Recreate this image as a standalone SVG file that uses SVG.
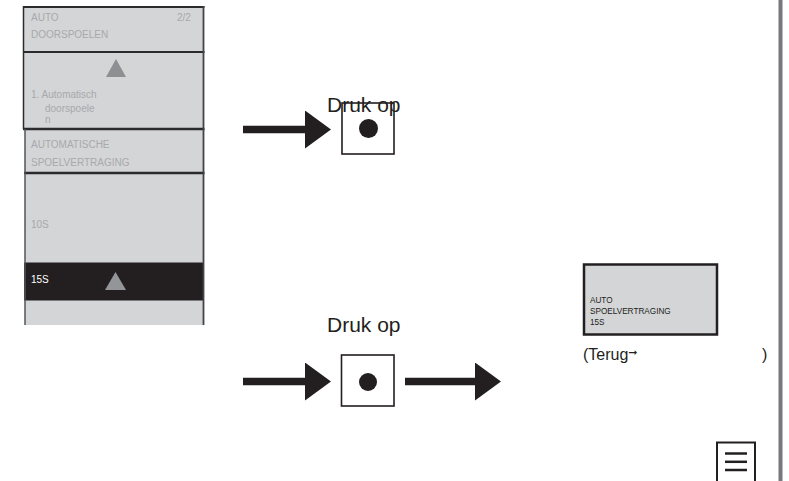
<svg xmlns="http://www.w3.org/2000/svg" width="789" height="481" viewBox="0 0 789 481">
<style>
.pt{font-family:"Liberation Sans",Arial,sans-serif;font-size:10px;fill:#a7a9ac}
.dk{font-family:"Liberation Sans",Arial,sans-serif;fill:#231f20}
.bd{stroke:#2b2b2d;stroke-width:2;fill:none}
.sh{stroke:#231f20;stroke-width:7.5;fill:none}
</style>
<defs>
<marker id="ah" markerUnits="userSpaceOnUse" markerWidth="27" markerHeight="40" refX="1" refY="19" orient="auto" viewBox="0 0 27 40">
<path d="M0,0 L26,19 L0,38 Z" fill="#231f20"/>
</marker>
</defs>
<rect width="789" height="481" fill="#ffffff"/>
<g id="screen-panel">
<rect x="23.5" y="7" width="180.5" height="122" fill="#d4d5d7"/>
<rect x="25" y="129" width="179" height="196" fill="#d4d5d7"/>
<rect x="24" y="262.5" width="180" height="38" fill="#231f20"/>
<line class="bd" x1="23" y1="7" x2="204.5" y2="7"/>
<line class="bd" x1="23" y1="52" x2="204.5" y2="52"/>
<line class="bd" x1="23" y1="129" x2="204.5" y2="129" style="stroke-width:2.5"/>
<line class="bd" x1="24" y1="173" x2="204.5" y2="173" style="stroke-width:2.5"/>
<line class="bd" x1="23.5" y1="6" x2="23.5" y2="129" style="stroke-width:1.5"/>
<line class="bd" x1="25" y1="129" x2="25" y2="325" style="stroke-width:1.5;stroke:#555558"/>
<line class="bd" x1="203.5" y1="6" x2="203.5" y2="325" style="stroke-width:1.8;stroke:#444447"/>
<text class="pt" x="31" y="21">AUTO</text>
<text class="pt" x="177" y="21">2/2</text>
<text class="pt" x="31" y="38">DOORSPOELEN</text>
<polygon points="106,77 126,77 116,59" fill="#8e8f92"/>
<text class="pt" x="31" y="98">1. Automatisch</text>
<text class="pt" x="45" y="112">doorspoele</text>
<text class="pt" x="45" y="123">n</text>
<text class="pt" x="31" y="148">AUTOMATISCHE</text>
<text class="pt" x="31" y="166">SPOELVERTRAGING</text>
<text class="pt" x="31" y="228">10S</text>
<text class="pt" x="31" y="283" style="fill:#ffffff">15S</text>
<polygon points="105,290 126,290 115.5,272" fill="#939598"/>
</g>
<g id="button-1">
<text class="dk" x="327" y="111.5" font-size="21">Druk op</text>
<rect x="342" y="103" width="52" height="51" fill="none" stroke="#231f20" stroke-width="1.6"/>
<circle cx="368.5" cy="128.5" r="9.5" fill="#231f20"/>
</g>
<g id="button-2">
<text class="dk" x="327" y="331.5" font-size="21">Druk op</text>
<rect x="341.5" y="355" width="52.5" height="51" fill="none" stroke="#231f20" stroke-width="1.6"/>
<circle cx="368" cy="382" r="9" fill="#231f20"/>
</g>
<g id="result-screen">
<rect x="584" y="264.5" width="133" height="70" fill="#d4d5d7" stroke="#231f20" stroke-width="2.5"/>
<text class="dk" x="590" y="303.3" font-size="8.2">AUTO</text>
<text class="dk" x="590" y="314.3" font-size="8.2">SPOELVERTRAGING</text>
<text class="dk" x="590" y="325" font-size="8.2">15S</text>
</g>
<g id="back-note">
<text class="dk" x="583" y="360" font-size="16">(Terug<tspan font-family="'DejaVu Sans',sans-serif" font-size="11" dy="-4">➞</tspan></text>
<text class="dk" x="762" y="360" font-size="16">)</text>
</g>
<g id="menu-icon">
<rect x="717" y="442.5" width="38" height="42" fill="#ffffff" stroke="#231f20" stroke-width="2"/>
<line x1="725" y1="453.5" x2="747" y2="453.5" stroke="#231f20" stroke-width="2.5"/>
<line x1="725" y1="461.8" x2="747" y2="461.8" stroke="#231f20" stroke-width="2.5"/>
<line x1="725" y1="470" x2="747" y2="470" stroke="#231f20" stroke-width="2.5"/>
</g>
<g id="side-bar">
<rect x="778.5" y="0" width="4" height="481" fill="#78787c"/>
</g>
<g id="connectors">
<line class="sh" x1="243" y1="129.5" x2="306" y2="129.5" marker-end="url(#ah)"/>
<line class="sh" x1="243" y1="381.5" x2="306" y2="381.5" marker-end="url(#ah)"/>
<line class="sh" x1="405" y1="381.5" x2="476" y2="381.5" marker-end="url(#ah)"/>
</g>
</svg>
